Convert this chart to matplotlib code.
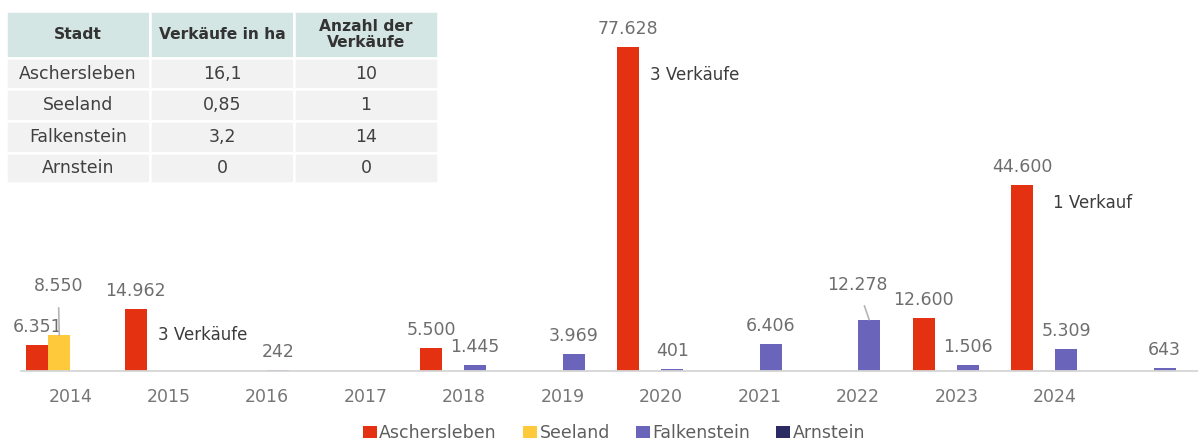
import numpy as np
import matplotlib
matplotlib.use("Agg")
import matplotlib.pyplot as plt
from matplotlib.patches import Rectangle

plt.rcParams['font.family'] = ['DejaVu Sans']

# -------------------------------
# DATA
# -------------------------------
years = ["2014", "2015", "2016", "2017", "2018", "2019", "2020",
         "2021", "2022", "2023", "2024", ""]
series_names = ["Aschersleben", "Seeland", "Falkenstein", "Arnstein"]
aschersleben = [6351, 14962, 0, 0, 5500, 0, 77628, 0, 0, 12600, 44600, 0]
seeland = [8550, 0, 0, 0, 0, 0, 0, 0, 0, 0, 0, 0]
falkenstein = [0, 0, 242, 0, 1445, 3969, 401, 6406, 12278, 1506, 5309, 643]
arnstein = [0, 0, 0, 0, 0, 0, 0, 0, 0, 0, 0, 0]
colors = ["#e33112", "#ffc93c", "#6a64bb", "#2b2a62"]

# notes next to single bars (text, series, year index)
notes = [("3 Verkäufe", 0, 1), ("3 Verkäufe", 0, 6), ("1 Verkauf", 0, 10)]

# summary table
table_header = ["Stadt", "Verkäufe in ha", "Anzahl der\nVerkäufe"]
table_city = ["Aschersleben", "Seeland", "Falkenstein", "Arnstein"]
table_ha = ["16,1", "0,85", "3,2", "0"]
table_count = ["10", "1", "14", "0"]

# -------------------------------
# FIGURE
# -------------------------------
W, H = 1198, 443
fig = plt.figure(figsize=(W / 100, H / 100), dpi=100)
ax = fig.add_axes([21 / W, 72 / H, 1177 / W, 363 / H])

x = np.arange(len(years))
w = 0.223
all_series = [aschersleben, seeland, falkenstein, arnstein]
bars = []
for i, (name, vals, c) in enumerate(zip(series_names, all_series, colors)):
    b = ax.bar(x + (i - 1.5) * w, vals, width=w, color=c, label=name, linewidth=0)
    bars.append(b)

ax.set_xlim(-0.5, 11.45)
ax.set_ylim(0, 87000)
ax.set_xticks(x)
ax.set_xticklabels(years)
ax.tick_params(axis='x', length=0, pad=12, labelsize=12.5, labelcolor='#767676')
ax.set_yticks([])
for s in ['top', 'right', 'left']:
    ax.spines[s].set_visible(False)
ax.spines['bottom'].set_color('#d6d6d6')
ax.spines['bottom'].set_linewidth(1.3)

# value labels (german thousands separator)
special = {(1, 0): (-1, 49), (2, 8): (-12, 35)}
for i, b in enumerate(bars):
    for j, rect in enumerate(b):
        v = all_series[i][j]
        if v <= 0:
            continue
        cx = rect.get_x() + rect.get_width() / 2
        top = rect.get_height()
        txt = f"{v:,}".replace(",", ".")
        dx, dy = special.get((i, j), (0, 18))
        if (i, j) in special:
            ax.annotate(txt, xy=(cx, top), xytext=(dx, dy), textcoords='offset pixels',
                        ha='center', va='center', fontsize=12.5, color='#6e6e6e',
                        arrowprops=dict(arrowstyle='-', color='#b5b5b5', lw=1.2,
                                        shrinkA=7, shrinkB=0))
        else:
            ax.annotate(txt, xy=(cx, top), xytext=(dx, dy), textcoords='offset pixels',
                        ha='center', va='center', fontsize=12.5, color='#6e6e6e')

note_offsets = [(11, -26), (11, -28), (20, -18)]
for (txt, si, j), (dx, dy) in zip(notes, note_offsets):
    rect = bars[si][j]
    ax.annotate(txt, xy=(rect.get_x() + rect.get_width(), rect.get_height()),
                xytext=(dx, dy), textcoords='offset pixels',
                ha='left', va='center', fontsize=12, color='#3c3c3c')

# legend
fig.legend(loc='center', bbox_to_anchor=(614 / W, 1 - 433 / H), ncol=4, frameon=False,
           handlelength=0.8, handleheight=0.75, handletextpad=0.15, columnspacing=1.5,
           fontsize=12.5, labelcolor='#5e5e5e')

# -------------------------------
# TABLE
# -------------------------------
tax = fig.add_axes([0, 0, 1, 1], facecolor='none')
tax.set_xlim(0, W)
tax.set_ylim(H, 0)
tax.axis('off')

col_edges = [6, 150, 294, 438]
row_edges = [11, 58, 89, 121, 153, 183]
rows = [table_header] + [list(r) for r in zip(table_city, table_ha, table_count)]
for r in range(len(rows)):
    for c in range(3):
        x0, x1 = col_edges[c], col_edges[c + 1]
        y0, y1 = row_edges[r], row_edges[r + 1]
        fc = '#d4e6e3' if r == 0 else '#f2f2f2'
        tax.add_patch(Rectangle((x0, y0), x1 - x0, y1 - y0, facecolor=fc,
                                edgecolor='white', linewidth=1.8))
        if r == 0:
            tax.text((x0 + x1) / 2, (y0 + y1) / 2, rows[r][c], ha='center', va='center',
                     fontsize=11.2, fontweight='bold', color='#333333', linespacing=1.15)
        else:
            tax.text((x0 + x1) / 2, (y0 + y1) / 2, rows[r][c], ha='center', va='center',
                     fontsize=12.5, color='#404040')

fig.savefig("out.png", dpi=100)
